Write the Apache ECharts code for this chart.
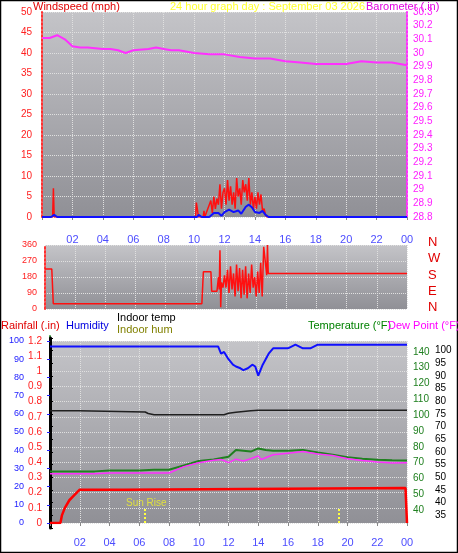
<!DOCTYPE html>
<html><head><meta charset="utf-8">
<script src="https://cdn.jsdelivr.net/npm/echarts@6/dist/echarts.min.js"></script>
<style>html,body{margin:0;padding:0;background:#fff}#c{width:458px;height:553px}</style>
</head><body><div id="c"></div>
<script>
const hourTicks = ['02','04','06','08','10','12','14','16','18','20','22','00'];
const barometer = [[0,30.11],[0.5,30.11],[1,30.13],[1.5,30.1],[2,30.05],[2.5,30.04],[3,30.04],[4,30.03],[4.5,30.03],[5,30.02],[5.5,30.0],[6,30.02],[7,30.03],[7.5,30.04],[8,30.03],[8.5,30.02],[9,30.02],[10,30.0],[11,29.99],[12,29.99],[13,29.97],[14,29.96],[15,29.96],[16,29.94],[17,29.93],[18,29.92],[19,29.92],[20,29.92],[21,29.94],[22,29.93],[23,29.93],[24,29.91]];
const windGust = [[0,0],[0.7,0],[0.75,7],[0.8,0],[10.1,0],[10.15,3.5],[10.25,1],[10.3,0],[10.6,0],[10.65,1.5],[10.7,0],[11.0,3],[11.1,4],[11.2,1],[11.3,5],[11.4,2],[11.5,4.5],[11.6,3],[11.7,8],[11.8,2],[11.9,6],[12.0,7],[12.1,3],[12.2,9],[12.3,4],[12.4,7.5],[12.5,3],[12.6,6],[12.7,2],[12.8,9.5],[12.9,5],[13.0,7],[13.1,3],[13.2,9],[13.3,6],[13.4,8],[13.5,4],[13.6,9.5],[13.7,3],[13.8,6],[13.9,2],[14.0,5],[14.1,2],[14.2,6],[14.3,3],[14.4,5.5],[14.5,1.5],[14.6,2],[14.7,0.5],[14.8,0],[24,0]];
const windAvg = [[0,0],[0.6,0],[0.8,0.5],[1.0,0],[10.2,0],[10.3,0.5],[10.5,0],[11.0,0],[11.3,1],[11.6,1],[11.8,0.3],[12.0,1.2],[12.3,1.8],[12.6,1.2],[12.9,1.6],[13.1,0.8],[13.4,2.5],[13.6,3],[13.8,2.4],[14.0,1.2],[14.3,1],[14.5,1.5],[14.7,0.5],[14.9,0],[24,0]];
const windDir = [[0,225],[0.45,225],[0.55,30],[10.4,30],[10.5,210],[11.0,210],[11.05,100],[11.4,100],[11.5,180],[11.55,110],[11.6,330],[11.65,10],[11.7,150],[11.8,120],[11.9,190],[12.0,120],[12.1,220],[12.2,90],[12.3,240],[12.4,110],[12.5,200],[12.6,70],[12.7,250],[12.8,100],[12.9,230],[13.0,60],[13.1,220],[13.2,80],[13.3,240],[13.4,60],[13.5,200],[13.6,90],[13.7,250],[13.8,120],[13.9,180],[14.0,70],[14.1,210],[14.2,90],[14.3,260],[14.4,70],[14.5,350],[14.6,360],[14.7,190],[14.75,360],[14.8,200],[24,200]];
const rainfall = [[0,0],[0.7,0],[0.8,0.05],[1.0,0.1],[1.3,0.15],[1.6,0.18],[2,0.22],[5,0.22],[5.1,0.23],[23.9,0.23],[24,0]];
const humidity = [[0,97],[11.3,97],[11.5,93],[11.7,94],[12,90],[12.3,87],[12.5,86],[12.8,85],[13,84],[13.3,85],[13.6,87],[13.8,86],[14,81],[14.3,87],[14.5,90],[14.7,93],[15,96],[16,96],[16.5,98],[17,96],[17.5,96],[18,98],[24,98]];
const indoorTemp = [[0,76.3],[1.9,76.3],[2,75.8],[6.4,75.8],[6.6,75.2],[7,74.7],[11.7,74.7],[12,75.3],[12.5,75.7],[13,76],[13.5,76.3],[14,76.5],[24,76.5]];
const temperature = [[0,64.5],[3,64.5],[4,65],[6,65],[7,65.5],[8,65.5],[9,68.3],[10,71],[11,72],[12,73.8],[12.5,78],[13,77.5],[13.5,77],[14,79],[14.5,78],[15,77.5],[16,77.5],[17,78],[18,76.5],[19,75],[20,73.5],[21,72.5],[22,71.8],[23,71.5],[24,71.3]];
const dewPoint = [[0,63],[3,63],[4,63.5],[7.5,63.5],[8,63.5],[9,67.5],[10,70],[11,71.5],[11.5,72],[12,70],[12.5,72.2],[13,71],[13.5,72.5],[14,74.3],[14.2,72],[15,75],[16,76],[17,77],[18,75.5],[19,74.5],[20,72.5],[21,71.3],[22,70.4],[23,69.8],[24,70]];
const sunTimes = [6.4, 19.4];
const dirLabels = ['N','W','S','E','N'];

const ch = echarts.init(document.getElementById('c'));
const F = 'Liberation Sans';
const bg = {type:'linear',x:0,y:0,x2:0,y2:1,colorStops:[{offset:0,color:'#c4c4c8'},{offset:1,color:'#909096'}]};
const split = {show:true,lineStyle:{color:'#e0e0e0',type:'dotted',width:1}};
function xAx(gi, show, margin){
  return {type:'value',gridIndex:gi,min:0,max:24,interval:2,
    axisLine:{show:false},axisTick:{show:show,length:3,lineStyle:{color:'#888'}},
    axisLabel:{show:show,margin:margin,color:'#4d4dff',fontFamily:F,fontSize:11,
      formatter:v=>v===0?'':hourTicks[v/2-1]},
    splitLine:gi===3||gi===4?{show:false}:split};
}
const opt = {
  animation:false,
  textStyle:{fontFamily:F},
  grid:[
    {left:42,right:51,top:12,height:205,show:true,backgroundColor:bg,borderWidth:0},
    {left:45,right:51,top:245,height:64,show:true,backgroundColor:bg,borderWidth:0},
    {left:50,right:51,top:341,height:182,show:true,backgroundColor:bg,borderWidth:0},
    {left:50,right:51,top:336,height:190,show:false},
    {left:50,right:51,top:338,height:190,show:false}
  ],
  xAxis:[xAx(0,true,17),xAx(1,false,0),xAx(2,true,14),xAx(3,false,0),xAx(4,false,0)],
  yAxis:[
    {type:'value',gridIndex:0,min:0,max:50,interval:5,axisLine:{show:true,lineStyle:{color:'#ff3030',type:'dotted',width:2}},axisTick:{show:false},
     axisLabel:{color:'#ff2020',fontSize:10,margin:10},splitLine:split},
    {type:'value',gridIndex:0,position:'right',min:28.8,max:30.3,interval:0.1,axisLine:{show:true,lineStyle:{color:'#ff30ff',type:'dotted',width:2}},axisTick:{show:false},
     axisLabel:{color:'#ff20ff',fontSize:10,margin:6,formatter:v=>String(+v.toFixed(1))},splitLine:{show:false}},
    {type:'value',gridIndex:1,min:0,max:360,interval:90,axisLine:{show:true,lineStyle:{color:'#ff3030',type:'dotted',width:2}},axisTick:{show:false},
     axisLabel:{color:'#ff2020',fontSize:9,margin:8},splitLine:split},
    {type:'value',gridIndex:2,min:0,max:100,interval:10,position:'left',offset:20,axisLine:{show:true,lineStyle:{color:'#2020ff',width:3}},axisTick:{show:true,length:3,lineStyle:{color:'#2020ff'}},
     axisLabel:{color:'#2020ff',fontSize:9,margin:6},splitLine:{show:false}},
    {type:'value',gridIndex:2,min:0,max:1.2,interval:0.1,position:'left',axisLine:{show:true,lineStyle:{color:'#ff3030',type:'dotted',width:2}},axisTick:{show:false},
     axisLabel:{color:'#ff2020',fontSize:10,margin:8,formatter:v=>String(+v.toFixed(1))},splitLine:split},
    {type:'value',gridIndex:3,min:30,max:150,interval:10,position:'right',axisLine:{show:true,lineStyle:{color:'#40a040',type:'dotted',width:2}},axisTick:{show:false},
     axisLabel:{color:'#208020',fontSize:10,margin:6,formatter:v=>(v<40||v>140)?'':v},splitLine:{show:false}},
    {type:'value',gridIndex:4,min:30,max:105,interval:5,position:'right',offset:22,axisLine:{show:true,lineStyle:{color:'#000',width:3}},axisTick:{show:true,length:3,lineStyle:{color:'#000'}},
     axisLabel:{color:'#000',fontSize:10,margin:6,formatter:v=>(v<35||v>100)?'':v},splitLine:{show:false}}
  ],
  series:[
    {type:'line',xAxisIndex:0,yAxisIndex:1,data:barometer,showSymbol:false,lineStyle:{color:'#ff30ff',width:2}},
    {type:'line',xAxisIndex:0,yAxisIndex:0,data:windGust,showSymbol:false,lineStyle:{color:'#ff1010',width:1.5}},
    {type:'line',xAxisIndex:0,yAxisIndex:0,data:windAvg,showSymbol:false,lineStyle:{color:'#1010ff',width:2}},
    {type:'line',xAxisIndex:1,yAxisIndex:2,data:windDir,showSymbol:false,lineStyle:{color:'#ff1010',width:1.5}},
    {type:'line',xAxisIndex:2,yAxisIndex:3,data:humidity,showSymbol:false,lineStyle:{color:'#1010ff',width:2}},
    {type:'line',xAxisIndex:4,yAxisIndex:6,data:indoorTemp,showSymbol:false,lineStyle:{color:'#202020',width:1.5}},
    {type:'line',xAxisIndex:3,yAxisIndex:5,data:temperature,showSymbol:false,lineStyle:{color:'#208020',width:2}},
    {type:'line',xAxisIndex:3,yAxisIndex:5,data:dewPoint,showSymbol:false,lineStyle:{color:'#ff30ff',width:1.5}},
    {type:'line',xAxisIndex:2,yAxisIndex:4,data:rainfall,showSymbol:false,lineStyle:{color:'#ff0000',width:2.5},
     markLine:{symbol:'none',silent:true,label:{show:false},lineStyle:{color:'#ffff40',type:'dotted',width:2},
       data:sunTimes.map(t=>[{coord:[t,0.0]},{coord:[t,0.1]}])}}
  ],
  graphic:[
    {type:'rect',shape:{x:0.5,y:0.5,width:457,height:552},style:{fill:'none',stroke:'#000',lineWidth:1.5},silent:true},
    {type:'text',left:33,top:1,style:{text:'Windspeed (mph)',fill:'#e00000',font:'11px "Liberation Sans"'}},
    {type:'text',left:170,top:1,style:{text:'24 hour graph day : September 03 2026',fill:'#ffff30',font:'11px "Liberation Sans"'}},
    {type:'text',left:366,top:1,style:{text:'Barometer (.in)',fill:'#e000e0',font:'11px "Liberation Sans"'}},
    ...dirLabels.map((s,i)=>({type:'text',left:428,top:236+i*16.3,style:{text:s,fill:'#e00000',font:'13px "Liberation Sans"'}})),
    {type:'text',left:1,top:320,style:{text:'Rainfall (.in)',fill:'#e00000',font:'11px "Liberation Sans"'}},
    {type:'text',left:66,top:320,style:{text:'Humidity',fill:'#0000e0',font:'11px "Liberation Sans"'}},
    {type:'text',left:117,top:312,style:{text:'Indoor temp',fill:'#000',font:'11px "Liberation Sans"'}},
    {type:'text',left:117,top:324,style:{text:'Indoor hum',fill:'#808000',font:'11px "Liberation Sans"'}},
    {type:'text',left:308,top:320,style:{text:'Temperature (°F)',fill:'#008000',font:'11px "Liberation Sans"'}},
    {type:'text',left:388,top:320,style:{text:'Dew Point (°F)',fill:'#ff00ff',font:'11px "Liberation Sans"'}},
    {type:'text',left:126,top:498,style:{text:'Sun Rise',fill:'#e0e040',font:'10px "Liberation Sans"'}}
  ]
};
ch.setOption(opt);
</script></body></html>
